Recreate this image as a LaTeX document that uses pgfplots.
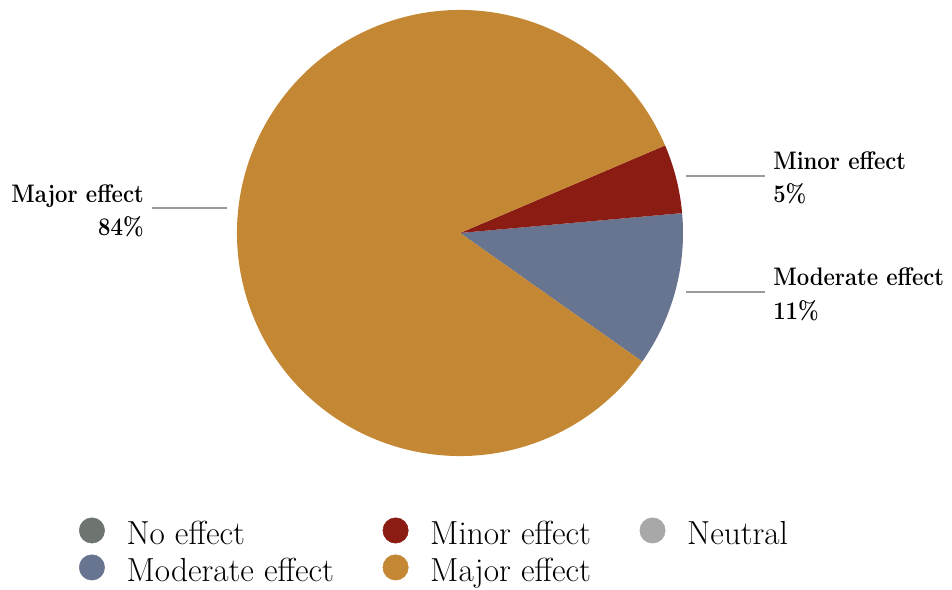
\documentclass[border=0pt]{standalone}
\usepackage{pgfplots}
\usepackage{pgfplotstable}
\pgfplotsset{compat=1.18}
\usepackage{graphicx}
\definecolor{nocol}{HTML}{6E7470}
\definecolor{minorcol}{HTML}{8B1C14}
\definecolor{neutralcol}{HTML}{A8A8A8}
\definecolor{modcol}{HTML}{687590}
\definecolor{majorcol}{HTML}{C48834}
\definecolor{leadcol}{HTML}{9A9A9A}

\pgfplotstableread{
name value
Moderate 11.2
Minor 5.0
Major 83.8
}\piedata
\pgfplotstablegetelem{0}{value}\of\piedata \let\vA\pgfplotsretval
\pgfplotstablegetelem{1}{value}\of\piedata \let\vB\pgfplotsretval
\pgfplotstablegetelem{2}{value}\of\piedata \let\vC\pgfplotsretval
\pgfmathsetmacro\aA{-35.2}
\pgfmathsetmacro\aB{\aA+3.6*\vA}
\pgfmathsetmacro\aC{\aB+3.6*\vB}
\pgfmathsetmacro\aD{\aC+3.6*\vC}
\def\R{167.25pt}
\newcommand{\lbl}[1]{\scalebox{0.87}[1]{\fontsize{19}{22}\selectfont\bfseries #1}}

\begin{document}
\begin{tikzpicture}
\begin{axis}[
  hide axis, scale only axis, clip=false,
  x=0.75pt, y=0.75pt,
  xmin=0, xmax=952, ymin=0, ymax=589,
  legend columns=3,
  legend cell align=left,
  legend style={draw=none, fill=none, inner sep=0pt, outer sep=0pt,
    at={(axis cs:79,38.5)}, anchor=west,
    font=\fontsize{25}{29}\selectfont,
    row sep=6pt,
    nodes={inner sep=0pt},
    /tikz/every odd column/.append style={column sep=16.25pt},
    /tikz/every even column/.append style={column sep=36.5pt}},
]
\addlegendimage{legend image code/.code={\fill[nocol] (9.5pt,2.5pt) circle (9.5pt);}}
\addlegendentry{No effect}
\addlegendimage{legend image code/.code={\fill[minorcol] (9.5pt,2.5pt) circle (9.5pt);}}
\addlegendentry{Minor effect}
\addlegendimage{legend image code/.code={\fill[neutralcol] (9.5pt,2.5pt) circle (9.5pt);}}
\addlegendentry{Neutral}
\addlegendimage{legend image code/.code={\fill[modcol] (9.5pt,2.5pt) circle (9.5pt);}}
\addlegendentry{Moderate effect}
\addlegendimage{legend image code/.code={\fill[majorcol] (9.5pt,2.5pt) circle (9.5pt);}}
\addlegendentry{Major effect}

\fill[modcol] (axis cs:460,356) -- ++(\aA:\R) arc[start angle=\aA, end angle=\aB, radius=\R] -- cycle;
\fill[minorcol] (axis cs:460,356) -- ++(\aB:\R) arc[start angle=\aB, end angle=\aC, radius=\R] -- cycle;
\fill[majorcol] (axis cs:460,356) -- ++(\aC:\R) arc[start angle=\aC, end angle=\aD, radius=\R] -- cycle;

\draw[leadcol, line width=0.9pt] (axis cs:686,413) -- (axis cs:765,413);
\draw[leadcol, line width=0.9pt] (axis cs:686,297) -- (axis cs:765,297);
\draw[leadcol, line width=0.9pt] (axis cs:152,381) -- (axis cs:227,381);

\node[anchor=base west, inner sep=0pt] at (axis cs:773,419) {\lbl{Minor effect}};
\node[anchor=base west, inner sep=0pt] at (axis cs:773,386) {\lbl{5\%}};
\node[anchor=base west, inner sep=0pt] at (axis cs:773,303) {\lbl{Moderate effect}};
\node[anchor=base west, inner sep=0pt] at (axis cs:773,269) {\lbl{11\%}};
\node[anchor=base east, inner sep=0pt] at (axis cs:144,386) {\lbl{Major effect}};
\node[anchor=base east, inner sep=0pt] at (axis cs:144,353) {\lbl{84\%}};
\coordinate (bbl) at (axis cs:0,0);
\coordinate (btr) at (axis cs:952,589);
\end{axis}
\pgfresetboundingbox
\useasboundingbox (bbl) rectangle (btr);
\end{tikzpicture}
\end{document}
